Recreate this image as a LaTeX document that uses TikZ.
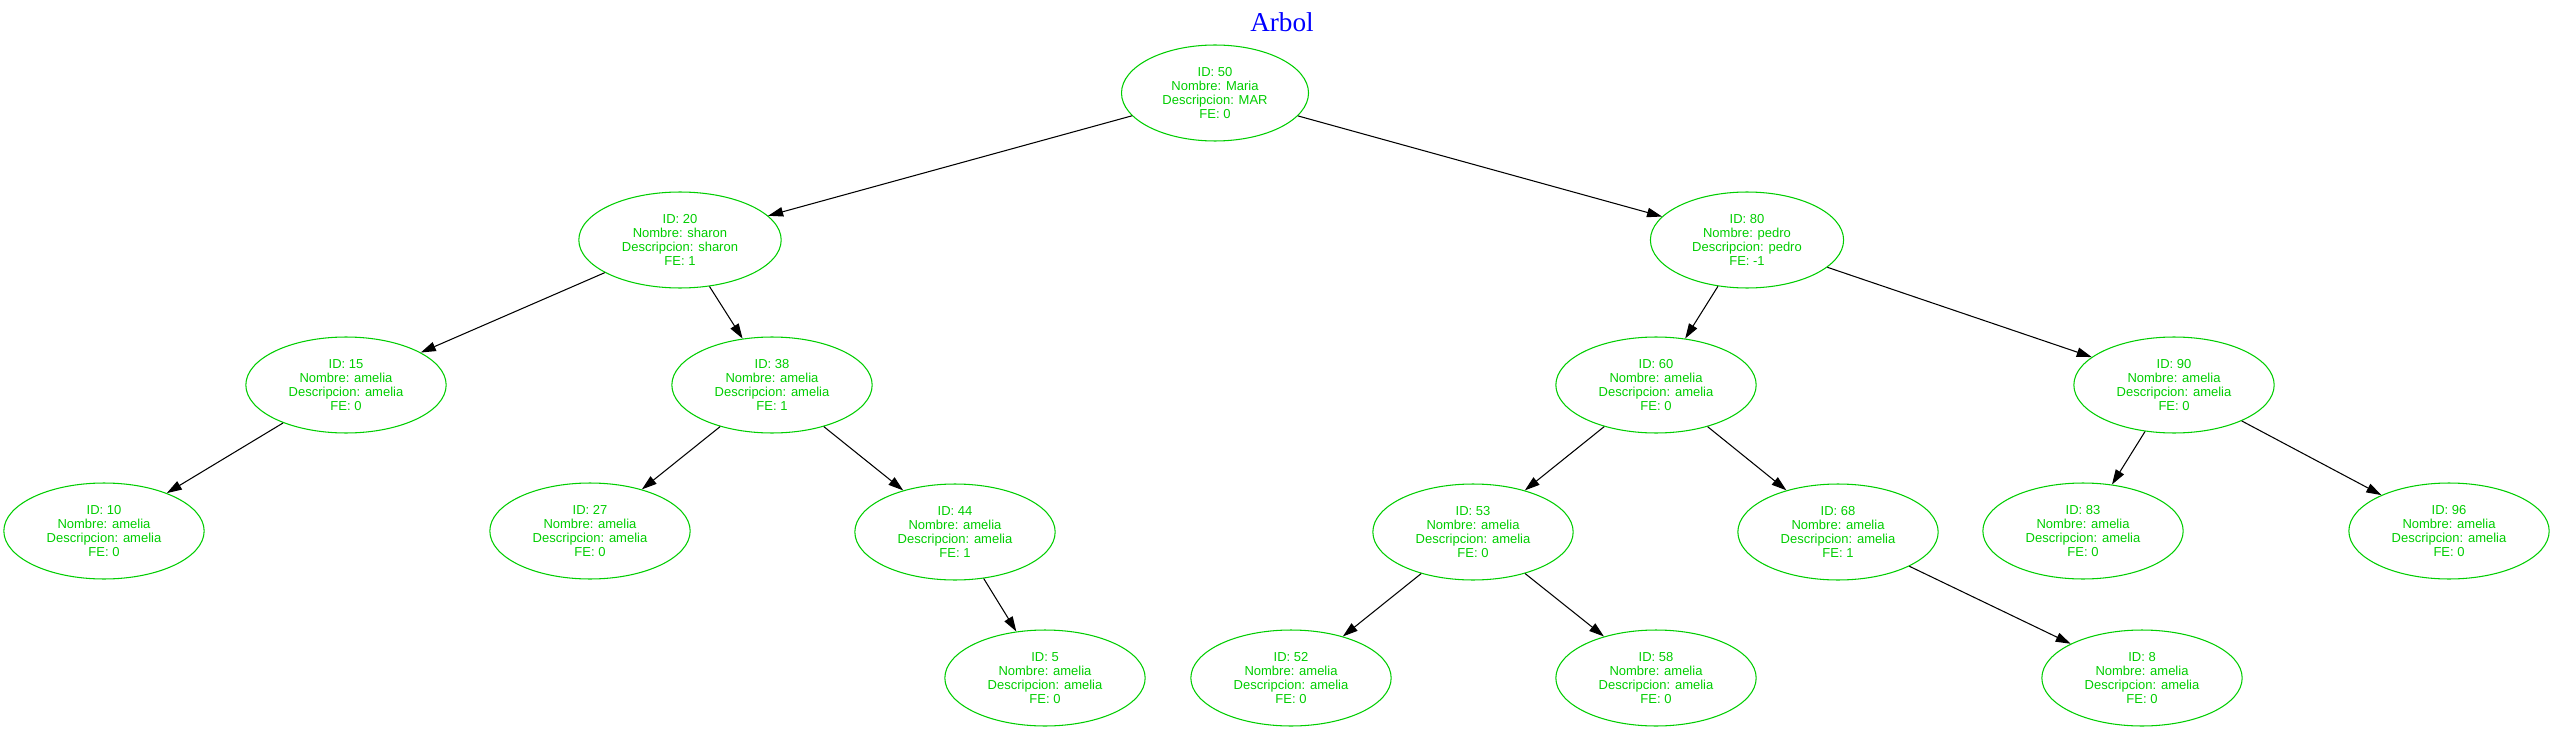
\documentclass[tikz,border=0pt]{standalone}
\usepackage{fontspec}
\setmainfont{Liberation Serif}
\setsansfont{Liberation Sans}
\usepackage{xcolor}
\usetikzlibrary{arrows.meta, shapes.geometric, positioning}
\definecolor{verde}{RGB}{0,205,0}
\newcommand{\dato}[4]{ID: #1\\Nombre: #2\\Descripcion: #3\\FE: #4}
\tikzset{> = { Triangle[length = 0.3cm, width = 0.19cm] }}

\begin{document}
\begin{tikzpicture}[->, x = 0.02cm, y = -0.02cm, line width = 0.6pt,
		arbol/.style = { draw = verde, ellipse, text = verde, align = center, font = \sffamily\fontsize{7.4}{8.1}\selectfont, inner xsep = 0.27cm, inner ysep = 0.05cm, minimum height = 1.92cm }]
		\useasboundingbox (0, 0) rectangle (2554, 733);

		\node [anchor = base, text = blue, font = \fontsize{15.5}{18}\selectfont] (titulo) at (1282, 32) {Arbol};

		\node [arbol] (n50) at (1215, 93) {\dato{50}{Maria}{MAR}{0}};

		\node [arbol] (n20) at (680, 240) {\dato{20}{sharon}{sharon}{1}};
		\node [arbol] (n80) at (1747, 240) {\dato{80}{pedro}{pedro}{-1}};

		\node [arbol] (n15) at (346, 385) {\dato{15}{amelia}{amelia}{0}};
		\node [arbol] (n38) at (772, 385) {\dato{38}{amelia}{amelia}{1}};
		\node [arbol] (n60) at (1656, 385) {\dato{60}{amelia}{amelia}{0}};
		\node [arbol] (n90) at (2174, 385) {\dato{90}{amelia}{amelia}{0}};

		\node [arbol] (n10) at (104, 531) {\dato{10}{amelia}{amelia}{0}};
		\node [arbol] (n27) at (590, 531) {\dato{27}{amelia}{amelia}{0}};
		\node [arbol] (n44) at (955, 532) {\dato{44}{amelia}{amelia}{1}};
		\node [arbol] (n53) at (1473, 532) {\dato{53}{amelia}{amelia}{0}};
		\node [arbol] (n68) at (1838, 532) {\dato{68}{amelia}{amelia}{1}};
		\node [arbol] (n83) at (2083, 531) {\dato{83}{amelia}{amelia}{0}};
		\node [arbol] (n96) at (2449, 531) {\dato{96}{amelia}{amelia}{0}};

		\node [arbol] (n5) at (1045, 678) {\dato{5}{amelia}{amelia}{0}};
		\node [arbol] (n52) at (1291, 678) {\dato{52}{amelia}{amelia}{0}};
		\node [arbol] (n58) at (1656, 678) {\dato{58}{amelia}{amelia}{0}};
		\node [arbol] (n8) at (2142, 678) {\dato{8}{amelia}{amelia}{0}};

		\draw (n50) -- (n20);
		\draw (n50) -- (n80);

		\draw (n20) -- (n15);
		\draw (n20) -- (n38);
		\draw (n80) -- (n60);
		\draw (n80) -- (n90);

		\draw (n15) -- (n10);
		\draw (n38) -- (n27);
		\draw (n38) -- (n44);
		\draw (n60) -- (n53);
		\draw (n60) -- (n68);
		\draw (n90) -- (n83);
		\draw (n90) -- (n96);

		\draw (n44) -- (n5);
		\draw (n53) -- (n52);
		\draw (n53) -- (n58);
		\draw (n68) -- (n8);
	\end{tikzpicture}
\end{document}
